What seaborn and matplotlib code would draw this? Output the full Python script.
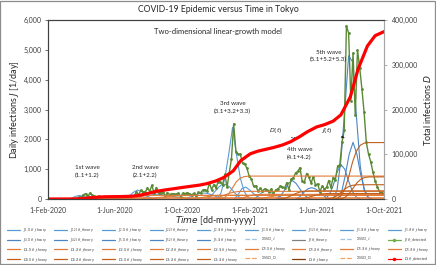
import pandas as pd
import matplotlib
matplotlib.use("Agg")
import matplotlib.pyplot as plt
from matplotlib.lines import Line2D
from matplotlib.patches import Rectangle
from matplotlib.ticker import FuncFormatter, MultipleLocator
import seaborn as sns

sns.set_theme(style="white")
plt.rcParams['font.family'] = ['Lato', 'DejaVu Sans']

# daily detected infections J (every 4 days from 1-Feb-2020)
detected_start = "2020-02-01"
detected_J = [
    0, 1, 0, 2, 1, 3, 1, 2,
    3, 2, 5, 7, 11, 17, 63,
    66, 143, 181, 91, 201, 123, 103, 47,
    91, 23, 15, 9, 5, 2, 11, 14,
    28, 13, 25, 27, 39, 55, 60,
    107, 102, 243, 143, 290, 238, 239, 367,
    258, 462, 188, 385, 186, 212, 250, 100,
    211, 149, 181, 163, 157, 195, 78,
    196, 177, 213, 177, 146, 185, 102, 221,
    209, 294, 317, 255, 534, 314, 481,
    372, 584, 572, 480, 822, 392, 884, 1350,
    2520, 1591, 1494, 1502, 1204, 1175, 1026, 769,
    676, 429, 434, 266, 353, 275, 337,
    316, 237, 335, 175, 303, 337, 430, 414,
    355, 545, 306, 667, 711, 876, 925,
    1050, 591, 573, 854, 732, 539, 743, 473,
    508, 235, 436, 337, 388, 619, 386,
    720, 640, 1100, 1150, 1900, 2300, 5800, 5560,
    3300, 4900, 2800, 5000, 4400, 3700, 2900, 1900,
    1500, 1250, 900, 600, 400, 250, 200,
    180,
]

# total detected infections D
cum_dates = ["2020-02-01", "2020-03-01", "2020-03-15", "2020-04-01", "2020-04-15",
             "2020-05-01", "2020-05-15", "2020-06-01", "2020-06-15", "2020-07-01",
             "2020-07-15", "2020-08-01", "2020-08-15", "2020-09-01", "2020-09-15",
             "2020-10-01", "2020-10-15", "2020-11-01", "2020-11-15", "2020-12-01",
             "2020-12-15", "2021-01-01", "2021-01-15", "2021-02-01", "2021-02-15",
             "2021-03-01", "2021-03-15", "2021-04-01", "2021-04-15", "2021-05-01",
             "2021-05-15", "2021-06-01", "2021-06-15", "2021-07-01", "2021-07-15",
             "2021-08-01", "2021-08-15", "2021-09-01", "2021-09-15", "2021-10-01"]
cum_D = [0, 40, 100, 590, 2450,
         4150, 5050, 5250, 5500, 6230,
         8050, 12700, 17100, 20400, 22900,
         25800, 28200, 31000, 34500, 40400,
         48000, 62600, 86000, 101000, 107000,
         111000, 115000, 121000, 128000, 139000,
         150000, 161000, 166000, 174000, 188000,
         228000, 290000, 342000, 365000, 374000]

# sub-wave components (weekly values from each start date)
wave_names = ["1.1", "1.2", "2.1", "2.2", "2.3", "3.1", "3.2", "3.3", "3.4",
              "4.1", "4.2", "5.1", "5.2", "5.3"]
wave_starts = ["2020-03-08", "2020-03-29", "2020-06-14", "2020-07-19", "2020-10-04",
               "2020-11-15", "2020-12-03", "2021-01-03", "2021-02-07",
               "2021-03-21", "2021-04-25", "2021-06-17", "2021-07-01", "2021-07-09"]
wave_J = [
    [0, 30, 90, 120, 80, 30, 5, 0],
    [0, 40, 90, 80, 40, 10, 0],
    [0, 40, 120, 230, 300, 250, 150, 60, 10, 0],
    [0, 50, 110, 150, 160, 150, 130, 110, 90, 70, 50, 35, 20, 10, 0],
    [0, 40, 90, 140, 180, 200, 190, 150, 100, 50, 15, 0],
    [0, 100, 250, 400, 500, 480, 380, 220, 90, 20, 0],
    [0, 200, 700, 1500, 2400, 1500, 700, 250, 60, 0],
    [0, 150, 350, 400, 300, 180, 80, 20, 0],
    [0, 80, 200, 260, 240, 190, 120, 60, 20, 0],
    [0, 100, 300, 520, 620, 520, 330, 150, 40, 0],
    [0, 80, 220, 340, 380, 340, 240, 120, 40, 0],
    [0, 150, 450, 900, 1150, 1000, 600, 250, 60, 0],
    [0, 300, 1300, 3000, 4800, 4600, 2800, 1100, 300, 40, 0],
    [0, 200, 800, 1500, 1900, 1500, 800, 300, 50, 0],
]
wave_D = [
    [0, 100, 500, 1300, 2000, 2300, 2500, 2500],
    [0, 100, 600, 1200, 1600, 1800, 1800],
    [0, 100, 700, 1900, 3800, 5700, 7100, 7800, 8100, 8100],
    [0, 200, 700, 1700, 2700, 3800, 4800, 5600, 6300, 6900, 7300, 7600, 7800, 7900, 8000],
    [0, 100, 600, 1400, 2500, 3900, 5200, 6400, 7300, 7800, 8000, 8100],
    [0, 400, 1600, 3900, 7000, 10400, 13400, 15500, 16600, 17000, 17100],
    [0, 700, 3900, 11600, 25200, 38900, 46600, 49900, 51000, 51200],
    [0, 500, 2300, 4900, 7400, 9000, 9900, 10300, 10400],
    [0, 300, 1300, 2900, 4600, 6100, 7200, 7800, 8100, 8200],
    [0, 400, 1800, 4600, 8600, 12600, 15600, 17300, 17900, 18100],
    [0, 300, 1300, 3300, 5800, 8300, 10400, 11600, 12200, 12300],
    [0, 500, 2600, 7400, 14500, 22100, 27700, 30600, 31700, 31900],
    [0, 1100, 6700, 21700, 49000, 82000, 107000, 120000, 124800, 126000, 126100],
    [0, 700, 4200, 12300, 24200, 36100, 44100, 48000, 49200, 49400],
]

tick_dates = ["2020-02-01", "2020-06-01", "2020-10-01", "2021-02-01", "2021-06-01", "2021-10-01"]

x_start = pd.Timestamp("2020-02-01")
x_end = pd.Timestamp("2021-10-01")

fig = plt.figure(figsize=(4.36, 2.65), dpi=100)
ax = fig.add_axes([48 / 436, 1 - 199 / 265, 336 / 436, 179 / 265])
ax2 = ax.twinx()

tc = "#404040"
fs_tick = 5

j_cols = ["#5B9BD5"] * 9 + ["#4A86C5"] * 5
d_cols = ["#E07B39"] * 9 + ["#C0601E"] * 5

j_handles, d_handles = [], []
for i, name in enumerate(wave_names):
    dts = pd.date_range(wave_starts[i], periods=len(wave_J[i]), freq="7D")
    sns.lineplot(x=dts, y=wave_J[i], ax=ax, color=j_cols[i], lw=0.8, legend=False)
    j_handles.append(Line2D([], [], color=j_cols[i], lw=0.9,
                            label=rf"$J_{{{name}}}(t)$_theory"))

det_dates = pd.date_range(detected_start, periods=len(detected_J), freq="4D")
sns.lineplot(x=det_dates, y=detected_J, ax=ax, color="#5A8A36", lw=1.0,
             marker="o", markersize=2.0, markeredgewidth=0, legend=False)

for i, name in enumerate(wave_names):
    dts = list(pd.date_range(wave_starts[i], periods=len(wave_D[i]), freq="7D")) + [x_end]
    vals = wave_D[i] + [wave_D[i][-1]]
    sns.lineplot(x=dts, y=vals, ax=ax2, color=d_cols[i], lw=0.8, legend=False)
    d_handles.append(Line2D([], [], color=d_cols[i], lw=0.9,
                            label=rf"$D_{{{name}}}(t)$_theory"))

sns.lineplot(x=pd.to_datetime(cum_dates), y=cum_D, ax=ax2, color="#FF0000", lw=2.3,
             legend=False)

ax.set_xlim(x_start, x_end)
ax.set_ylim(0, 6000)
ax2.set_ylim(0, 400000)
ax.yaxis.set_major_locator(MultipleLocator(1000))
ax2.yaxis.set_major_locator(MultipleLocator(100000))
ax.yaxis.set_major_formatter(FuncFormatter(lambda v, p: f"{v:,.0f}"))
ax2.yaxis.set_major_formatter(FuncFormatter(lambda v, p: f"{v:,.0f}"))
ax.set_xticks(pd.to_datetime(tick_dates))
ax.set_xticklabels([pd.Timestamp(d).strftime("%-d-%b-%Y") for d in tick_dates])

ax.tick_params(axis="x", length=0, pad=6, labelsize=fs_tick, labelcolor=tc)
ax.tick_params(axis="y", left=True, length=2.5, width=0.6, color="#595959", pad=2,
               labelsize=fs_tick, labelcolor=tc)
ax2.tick_params(axis="y", right=True, length=2.5, width=0.6, color="#A0A0A0", pad=3,
                labelsize=fs_tick, labelcolor=tc)
for a in (ax, ax2):
    for s in a.spines.values():
        s.set_linewidth(0.8)
        s.set_color("#404040")
    a.spines["right"].set_color("#A6A6A6")
    a.grid(False)
    a.set_xlabel("")
    a.set_ylabel("")

ax.set_ylabel(r"Daily infections $J$ [1/day]", fontsize=6.5, color="#262626", labelpad=2)
ax2.set_ylabel(r"Total infections $D$", fontsize=6.5, color="#262626", labelpad=3)
ax.set_xlabel(r"$Time$ [dd-mm-yyyy]", fontsize=6.5, color="#262626", labelpad=0)

fig.text(0.5, 1 - 10 / 265, "COVID-19 Epidemic versus Time in Tokyo", ha="center",
         va="center", fontsize=6.2, color="#262626")
ax.text(0.507, 0.933, "Two-dimensional linear-growth model", transform=ax.transAxes,
        ha="center", va="center", fontsize=5.5, color="#262626")

lab_fs = 4.5
labels = [("1st wave\n(1.1+1.2)", "2020-04-12", 920),
          ("2nd wave\n(2.1+2.2)", "2020-07-26", 920),
          ("3rd wave\n(3.1+3.2+3.3)", "2020-12-31", 3060),
          ("4th wave\n(4.1+4.2)", "2021-05-01", 1525),
          ("5th wave\n(5.1+5.2+5.3)", "2021-06-23", 4790)]
for txt, d, yv in labels:
    ax.text(pd.Timestamp(d), yv, txt, ha="center", va="center", fontsize=lab_fs,
            color="#262626", linespacing=1.6)

ax.annotate(r"$D(t)$", xy=(pd.Timestamp("2021-04-26"), 1990),
            xytext=(pd.Timestamp("2021-03-20"), 2280), fontsize=lab_fs, ha="center",
            va="center", color="#262626",
            arrowprops=dict(arrowstyle="-|>", color="#262626", lw=0.5,
                            mutation_scale=4, shrinkA=4, shrinkB=0))
ax.annotate(r"$J(t)$", xy=(pd.Timestamp("2021-07-22"), 2045),
            xytext=(pd.Timestamp("2021-06-20"), 2280), fontsize=lab_fs, ha="center",
            va="center", color="#262626",
            arrowprops=dict(arrowstyle="-|>", color="#262626", lw=0.5,
                            mutation_scale=4, shrinkA=4, shrinkB=0))

# legend, row-major order
sj = Line2D([], [], color="#9DC3E6", lw=0.9, ls="--", label=r"$\Sigma$SSCI_J")
jt = Line2D([], [], color="#808080", lw=0.9, label=r"$J(t)$_theory")
jd = Line2D([], [], color="#70AD47", lw=0.9, marker="o", markersize=1.5, label=r"$J(t)$_detected")
sd = Line2D([], [], color="#F4A460", lw=0.9, ls="--", label=r"$\Sigma$SSCI_D")
dt = Line2D([], [], color="#843C0C", lw=0.9, label=r"$D(t)$_theory")
dd = Line2D([], [], color="#FF0000", lw=0.9, marker="o", markersize=1.5, label=r"$D(t)$_detected")
rows = [j_handles[:9],
        j_handles[9:] + [sj, jt, sj, jd],
        d_handles[:9],
        d_handles[9:] + [sd, dt, sd, dd]]
ordered = [rows[r][c] for c in range(9) for r in range(4)]
fig.legend(handles=ordered, loc="lower left", bbox_to_anchor=(0.012, 0.0, 0.975, 0.11),
           mode="expand", ncol=9, fontsize=2.6, handlelength=3.6, handletextpad=0.8,
           columnspacing=0.5, labelspacing=0.5, frameon=False, borderaxespad=0,
           labelcolor="#404040")

fig.add_artist(Rectangle((0.001, 0.002), 0.997, 0.995, transform=fig.transFigure,
                         fill=False, edgecolor="#8C8C8C", lw=0.9))

fig.savefig("out.png", dpi=100)
